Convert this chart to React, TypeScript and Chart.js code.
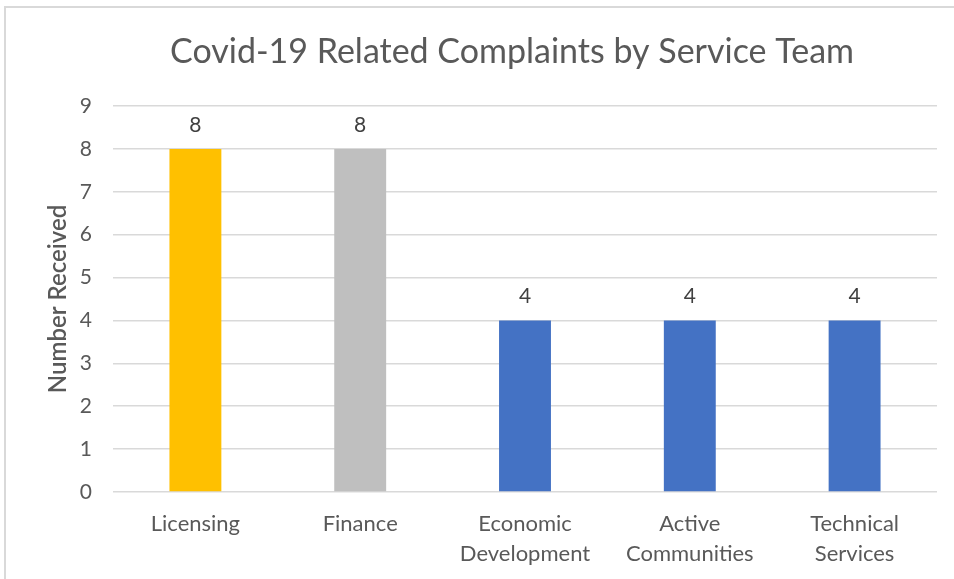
import React, { useEffect, useRef } from "react";
import { Chart, registerables } from "chart.js";

Chart.register(...registerables);

const categories: (string | string[])[] = [
  "Licensing",
  "Finance",
  ["Economic", "Development"],
  ["Active", "Communities"],
  ["Technical", "Services"],
];
const values = [8, 8, 4, 4, 4];
const barColors = ["#FFC000", "#BFBFBF", "#4472C4", "#4472C4", "#4472C4"];
const titleText = "Covid-19 Related Complaints by Service Team";
const yAxisTitle = "Number Received";
const yMin = 0;
const yMax = 9;
const yStep = 1;

const FONT = "Lato, 'Open Sans', 'DejaVu Sans', sans-serif";
const TEXT = "#595959";

const dataLabelPlugin = {
  id: "dataLabels",
  afterDatasetsDraw(chart: any) {
    const { ctx } = chart;
    const meta = chart.getDatasetMeta(0);
    ctx.save();
    ctx.font = `21px ${FONT}`;
    ctx.fillStyle = "#404040";
    ctx.textAlign = "center";
    ctx.textBaseline = "alphabetic";
    meta.data.forEach((el: any, i: number) => {
      ctx.fillText(String(chart.data.datasets[0].data[i]), el.x, el.y - 17);
    });
    ctx.restore();
  },
};

const titlePlugin = {
  id: "customTitle",
  afterDraw(chart: any) {
    const { ctx } = chart;
    ctx.save();
    ctx.font = `34px ${FONT}`;
    ctx.fillStyle = TEXT;
    ctx.textAlign = "center";
    ctx.textBaseline = "middle";
    ctx.fillText(titleText, 512, 52);
    ctx.restore();
  },
};

export default function App() {
  const ref = useRef<HTMLCanvasElement | null>(null);
  useEffect(() => {
    if (!ref.current) return;
    const chart = new Chart(ref.current, {
      type: "bar",
      data: {
        labels: categories,
        datasets: [
          {
            data: values,
            backgroundColor: barColors,
            borderWidth: 0,
            categoryPercentage: 1,
            barPercentage: 0.315,
          },
        ],
      },
      plugins: [dataLabelPlugin, titlePlugin],
      options: {
        animation: false,
        responsive: false,
        maintainAspectRatio: false,
        layout: { padding: { left: 0, right: 17, top: 106, bottom: 0 } },
        plugins: {
          legend: { display: false },
          tooltip: { enabled: false },
          title: { display: false },
        },
        scales: {
          x: {
            grid: { display: false },
            border: { display: false },
            ticks: {
              color: TEXT,
              font: { family: FONT, size: 22, lineHeight: 1.35 },
              padding: 9,
              maxRotation: 0,
              autoSkip: false,
            },
            afterFit(scale: any) {
              scale.height = 579 - 492;
            },
          },
          y: {
            min: yMin,
            max: yMax,
            grid: { color: "#D9D9D9", lineWidth: 1.5, drawTicks: false },
            border: { display: false },
            ticks: {
              stepSize: yStep,
              color: TEXT,
              font: { family: FONT, size: 21 },
              padding: 21,
            },
            title: {
              display: true,
              text: yAxisTitle,
              color: TEXT,
              font: { family: FONT, size: 24, weight: "600" },
              padding: { top: 44, bottom: 0 },
            },
            afterFit(scale: any) {
              scale.width = 113;
            },
          },
        },
      },
    });
    return () => chart.destroy();
  }, []);

  return (
    <div
      style={{
        position: "fixed",
        left: 0,
        top: 0,
        width: 954,
        height: 579,
        background: "#fff",
        overflow: "hidden",
      }}
    >
      <div
        style={{
          position: "absolute",
          left: 4,
          top: 6,
          width: 1000,
          height: 700,
          borderLeft: "2px solid #D9D9D9",
          borderTop: "2px solid #D9D9D9",
        }}
      />
      <canvas
        ref={ref}
        width={954}
        height={579}
        style={{ position: "absolute", left: 0, top: 0, width: 954, height: 579 }}
      />
    </div>
  );
}
